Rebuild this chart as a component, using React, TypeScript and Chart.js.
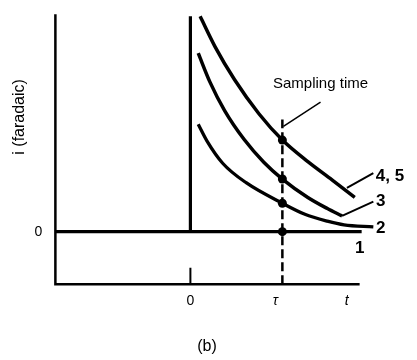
import React, { useEffect, useRef } from "react";
import { Chart, registerables } from "chart.js";

Chart.register(...registerables);

// Time axis in units of tau (step at t = 0, sampling at t = tau = 1); current in arbitrary units.
const curve45T = [0.106, 0.266, 0.479, 0.745, 1.0, 1.277, 1.543, 1.787];
const curve45I = [4.09, 3.52, 2.89, 2.24, 1.74, 1.33, 0.98, 0.65];

const curve3T = [0.085, 0.213, 0.372, 0.585, 0.798, 1.0, 1.277, 1.489, 1.649];
const curve3I = [3.39, 2.84, 2.3, 1.75, 1.32, 1.0, 0.65, 0.44, 0.3];

const curve2T = [0.085, 0.181, 0.351, 0.606, 1.0, 1.245, 1.489, 1.67, 1.989];
const curve2I = [2.04, 1.72, 1.3, 0.93, 0.54, 0.33, 0.2, 0.13, 0.09];

// Curve 1: zero faradaic current, with the potential step at t = 0
const curve1T = [-1.468, 0, 0, 0, 1.862];
const curve1I = [0, 0, 4.09, 0, 0];

const samplingT = 1;
const sampledI = [1.74, 1.0, 0.54, 0];

const axisLeftT = -1.468;
const axisRightT = 1.84;
const axisBottomI = -1;
const axisTopI = 4.13;

const xTickValues = [0, 1, 1.7];
const xTickLabels = ["0", "\u03c4", "t"];
const yTickValues = [0];
const yTickLabels = ["0"];

const curveLabels = ["4, 5", "3", "2", "1"];

const pts = (xs: number[], ys: number[]) => xs.map((x, i) => ({ x, y: ys[i] }));

export default function App() {
  const ref = useRef<HTMLCanvasElement | null>(null);

  useEffect(() => {
    document.body.style.margin = "0";
    const canvas = ref.current;
    if (!canvas) return;

    const black = "#000";
    const line = (data: any[], width: number, extra: any = {}) => ({
      data,
      showLine: true,
      borderColor: black,
      backgroundColor: black,
      borderWidth: width,
      pointRadius: 0,
      clip: false,
      ...extra,
    });

    const textPlugin = {
      id: "texts",
      afterDatasetsDraw(chart: any) {
        const ctx = chart.ctx as CanvasRenderingContext2D;
        const xs = chart.scales.x;
        const ys = chart.scales.y;
        const X = (v: number) => xs.getPixelForValue(v);
        const Y = (v: number) => ys.getPixelForValue(v);
        ctx.save();
        ctx.fillStyle = black;
        ctx.textAlign = "center";
        ctx.textBaseline = "middle";
        const ff = "'Liberation Sans', Arial, Helvetica, sans-serif";

        // x tick labels
        xTickValues.forEach((v, i) => {
          ctx.font = (i === 0 ? "" : "italic ") + "14px " + ff;
          const off = i === 1 ? -7 : 0;
          ctx.fillText(xTickLabels[i], X(v) + off, Y(axisBottomI) + 17);
        });
        // y tick labels
        ctx.font = "14px " + ff;
        yTickValues.forEach((v, i) => {
          ctx.fillText(yTickLabels[i], X(axisLeftT) - 17, Y(v));
        });

        // curve labels
        ctx.font = "bold 17px " + ff;
        ctx.fillText(curveLabels[0], X(2.17), Y(1.06));
        ctx.fillText(curveLabels[1], X(2.07), Y(0.57));
        ctx.fillText(curveLabels[2], X(2.07), Y(0.07));
        ctx.fillText(curveLabels[3], X(1.84), Y(-0.32));

        // sampling time label
        ctx.font = "15px " + ff;
        ctx.fillText("Sampling time", X(1.415), Y(2.8));

        // caption
        ctx.font = "16px " + ff;
        ctx.fillText("(b)", X(0.18), Y(-2.19));

        // y-axis title
        ctx.save();
        ctx.translate(20, Y(2.18));
        ctx.rotate(-Math.PI / 2);
        ctx.font = "16px " + ff;
        ctx.fillText("i (faradaic)", 0, 0);
        ctx.restore();

        ctx.restore();
      },
    };

    const chart = new Chart(canvas, {
      type: "scatter",
      data: {
        datasets: [
          // axes frame
          line(
            [
              { x: axisLeftT, y: axisTopI },
              { x: axisLeftT, y: axisBottomI },
              { x: axisRightT, y: axisBottomI },
            ],
            2.5
          ),
          // tick at t = 0
          line(
            [
              { x: 0, y: axisBottomI },
              { x: 0, y: -0.685 },
            ],
            2
          ),
          // sampling time dashed line
          line(
            [
              { x: samplingT, y: axisBottomI },
              { x: samplingT, y: 2.13 },
            ],
            2.5,
            { borderDash: [9, 4] }
          ),
          // sampling time leader
          line(
            [
              { x: 1.415, y: 2.46 },
              { x: 1.011, y: 2.0 },
            ],
            1.5
          ),
          // curve 1 with step
          line(pts(curve1T, curve1I), 3.2),
          // curves
          line(pts(curve45T, curve45I), 3.5, { cubicInterpolationMode: "monotone" }),
          line(pts(curve3T, curve3I), 3.5, { cubicInterpolationMode: "monotone" }),
          line(pts(curve2T, curve2I), 3.3, { cubicInterpolationMode: "monotone" }),
          // label leaders
          line(
            [
              { x: 1.702, y: 0.83 },
              { x: 1.989, y: 1.11 },
            ],
            2
          ),
          line(
            [
              { x: 1.649, y: 0.3 },
              { x: 1.989, y: 0.57 },
            ],
            2
          ),
          // sampled points
          {
            data: sampledI.map((y) => ({ x: samplingT, y })),
            showLine: false,
            pointRadius: 4.5,
            pointBackgroundColor: black,
            pointBorderColor: black,
            pointBorderWidth: 0,
            clip: false,
          },
        ],
      },
      options: {
        animation: false,
        responsive: false,
        maintainAspectRatio: false,
        events: [],
        layout: { padding: 0 },
        plugins: {
          legend: { display: false },
          tooltip: { enabled: false },
          title: { display: false },
        },
        scales: {
          x: { type: "linear", display: false, min: -190 / 94, max: 227 / 94 },
          y: { type: "linear", display: false, min: -127 / 54, max: 233 / 54 },
        },
      },
      plugins: [textPlugin],
    });

    return () => chart.destroy();
  }, []);

  return (
    <div style={{ width: 417, height: 360, background: "#fff" }}>
      <canvas ref={ref} width={417} height={360} style={{ display: "block" }} />
    </div>
  );
}
